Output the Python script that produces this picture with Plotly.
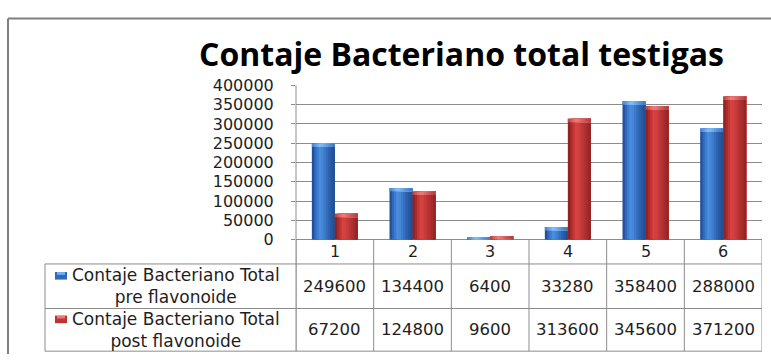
import plotly.graph_objects as go

# ---------------- data ----------------
categories = ["1", "2", "3", "4", "5", "6"]
pre_values = [249600, 134400, 6400, 33280, 358400, 288000]
post_values = [67200, 124800, 9600, 313600, 345600, 371200]
row_line1 = ["Contaje Bacteriano Total", "Contaje Bacteriano Total"]
row_line2 = ["pre flavonoide", "post flavonoide"]
title_text = "Contaje Bacteriano total testigas"
y_ticks = [0, 50000, 100000, 150000, 200000, 250000, 300000, 350000, 400000]

# ---------------- geometry helpers (style only) ----------------
W, H = 771, 364
def px(x):
    return x / W
def py(y):
    return 1 - y / H

PLOT_L, PLOT_R = 296, 762
PLOT_T, PLOT_B = 80.5, 243.5
ROW_Y = [269, 316, 361]
TABLE_L = 45
GRID = "#8c8c8c"
TXT = "#1e1e1e"
FONT = "Open Sans"
NUMFONT = "DejaVu Sans"

n = len(categories)
xs = list(range(n))

# gradient profiles across a bar (left -> right)
blue_prof = ["#24509a", "#3068ba", "#3d7dd0", "#4a8cdc", "#4687d8",
             "#3d7bcb", "#346ebd", "#2c62ae", "#2759a1", "#225096"]
blue_cap = ["#4f89d0", "#5e9ce0", "#70aeee", "#80bcf5", "#7bb8f2",
            "#6eaaea", "#609ce0", "#5590d5", "#4c86cb", "#447cc0"]
red_prof = ["#902222", "#ab2b2b", "#c33636", "#d64242", "#d34040",
            "#c73b3b", "#bb3535", "#af3030", "#a32b2b", "#952525"]
red_cap = ["#ba4a4a", "#d15a5a", "#e26c6c", "#ec7a7a", "#e97676",
           "#df6969", "#d45e5e", "#c95454", "#bd4b4b", "#af4343"]

BAR_W = 0.296
series = [
    (pre_values, -BAR_W, blue_prof, blue_cap),
    (post_values, 0.0, red_prof, red_cap),
]
CAP = 9000  # height of lighter cap in data units

fig = go.Figure()
for vals, off0, prof, cap in series:
    k = len(prof)
    sw = BAR_W / k
    for i in range(k):
        fig.add_trace(go.Bar(
            x=xs, y=vals, width=[BAR_W - i * sw] * n, offset=off0 + i * sw,
            marker=dict(color=prof[i], line=dict(width=0)),
            showlegend=False, hoverinfo="skip"))
    cap_base = [max(v - CAP, 0) for v in vals]
    cap_h = [v - b for v, b in zip(vals, cap_base)]
    for i in range(k):
        fig.add_trace(go.Bar(
            x=xs, y=cap_h, base=cap_base, width=[BAR_W - i * sw] * n,
            offset=off0 + i * sw,
            marker=dict(color=cap[i], line=dict(width=0)),
            showlegend=False, hoverinfo="skip"))

shapes = []
def hline(y, x0, x1, xref="paper"):
    shapes.append(dict(type="line", xref=xref, yref="paper",
                       x0=x0, x1=x1, y0=py(y), y1=py(y),
                       line=dict(color=GRID, width=1)))
def vline(x, y0, y1, xref="paper"):
    shapes.append(dict(type="line", xref=xref, yref="paper",
                       x0=x, x1=x, y0=py(y0), y1=py(y1),
                       line=dict(color=GRID, width=1)))

# outer chart border
shapes.append(dict(type="line", xref="paper", yref="paper",
                   x0=px(8), x1=1.0, y0=py(10), y1=py(10),
                   line=dict(color="#7f7f7f", width=2)))
shapes.append(dict(type="line", xref="paper", yref="paper",
                   x0=px(8), x1=px(8), y0=py(10), y1=0,
                   line=dict(color="#7f7f7f", width=2)))

# data table lines
for i in range(n + 1):
    vline(i - 0.5, PLOT_B, ROW_Y[-1], xref="x")
vline(px(TABLE_L), ROW_Y[0], ROW_Y[-1])
vline(px(PLOT_L), PLOT_T, ROW_Y[-1])
for yy in ROW_Y:
    hline(yy, px(TABLE_L), px(PLOT_R))

annotations = []
annotations.append(dict(text="<b>" + title_text + "</b>", xref="paper", yref="paper",
                        x=px(461), y=py(47), xanchor="center", yanchor="middle",
                        showarrow=False, font=dict(family=FONT, size=32, color="#000")))
for i, c in enumerate(categories):
    annotations.append(dict(text=c, xref="x", yref="paper", x=i, y=py(256),
                            xanchor="center", yanchor="middle", showarrow=False,
                            font=dict(family=NUMFONT, size=16, color=TXT)))
for r, vals in enumerate([pre_values, post_values]):
    yc = (ROW_Y[r] + ROW_Y[r + 1]) / 2
    for i, v in enumerate(vals):
        annotations.append(dict(text=str(v), xref="x", yref="paper", x=i, y=py(yc),
                                xanchor="center", yanchor="middle", showarrow=False,
                                font=dict(family=NUMFONT, size=16.5, color=TXT)))
key_cols = [("#3068ba", "#70aeee"), ("#bb3535", "#ec7a7a")]
for r in range(2):
    yc = (ROW_Y[r] + ROW_Y[r + 1]) / 2
    annotations.append(dict(text=row_line1[r] + "<br>" + row_line2[r],
                            xref="paper", yref="paper", align="center",
                            x=px(176), y=py(yc), xanchor="center", yanchor="middle",
                            showarrow=False, borderpad=0,
                            font=dict(family=NUMFONT, size=17, color=TXT)))
    ky = yc - 11
    shapes.append(dict(type="rect", xref="paper", yref="paper",
                       x0=px(55), x1=px(67), y0=py(ky + 4), y1=py(ky - 4),
                       fillcolor=key_cols[r][0], line=dict(width=0)))
    shapes.append(dict(type="rect", xref="paper", yref="paper",
                       x0=px(57), x1=px(65), y0=py(ky - 1), y1=py(ky - 4),
                       fillcolor=key_cols[r][1], line=dict(width=0)))

fig.update_layout(
    width=W, height=H,
    margin=dict(l=0, r=0, t=0, b=0),
    paper_bgcolor="white", plot_bgcolor="white",
    barmode="overlay",
    shapes=shapes, annotations=annotations,
    xaxis=dict(domain=[px(PLOT_L), px(PLOT_R)], range=[-0.5, n - 0.5],
               showticklabels=False, showgrid=False, zeroline=False,
               showline=False, ticks="", fixedrange=True),
    yaxis=dict(domain=[py(PLOT_B), py(PLOT_T)], range=[0, 400000],
               tickvals=y_ticks, ticktext=[str(t) for t in y_ticks],
               showgrid=True, gridcolor=GRID, gridwidth=1,
               zeroline=True, zerolinecolor=GRID, zerolinewidth=1,
               showline=False, ticks="outside", ticklen=4, tickcolor=GRID,
               ticklabelstandoff=14,
               tickfont=dict(family=NUMFONT, size=16, color=TXT), fixedrange=True),
    showlegend=False,
)

fig.write_html("out.html", config={"displayModeBar": False})
